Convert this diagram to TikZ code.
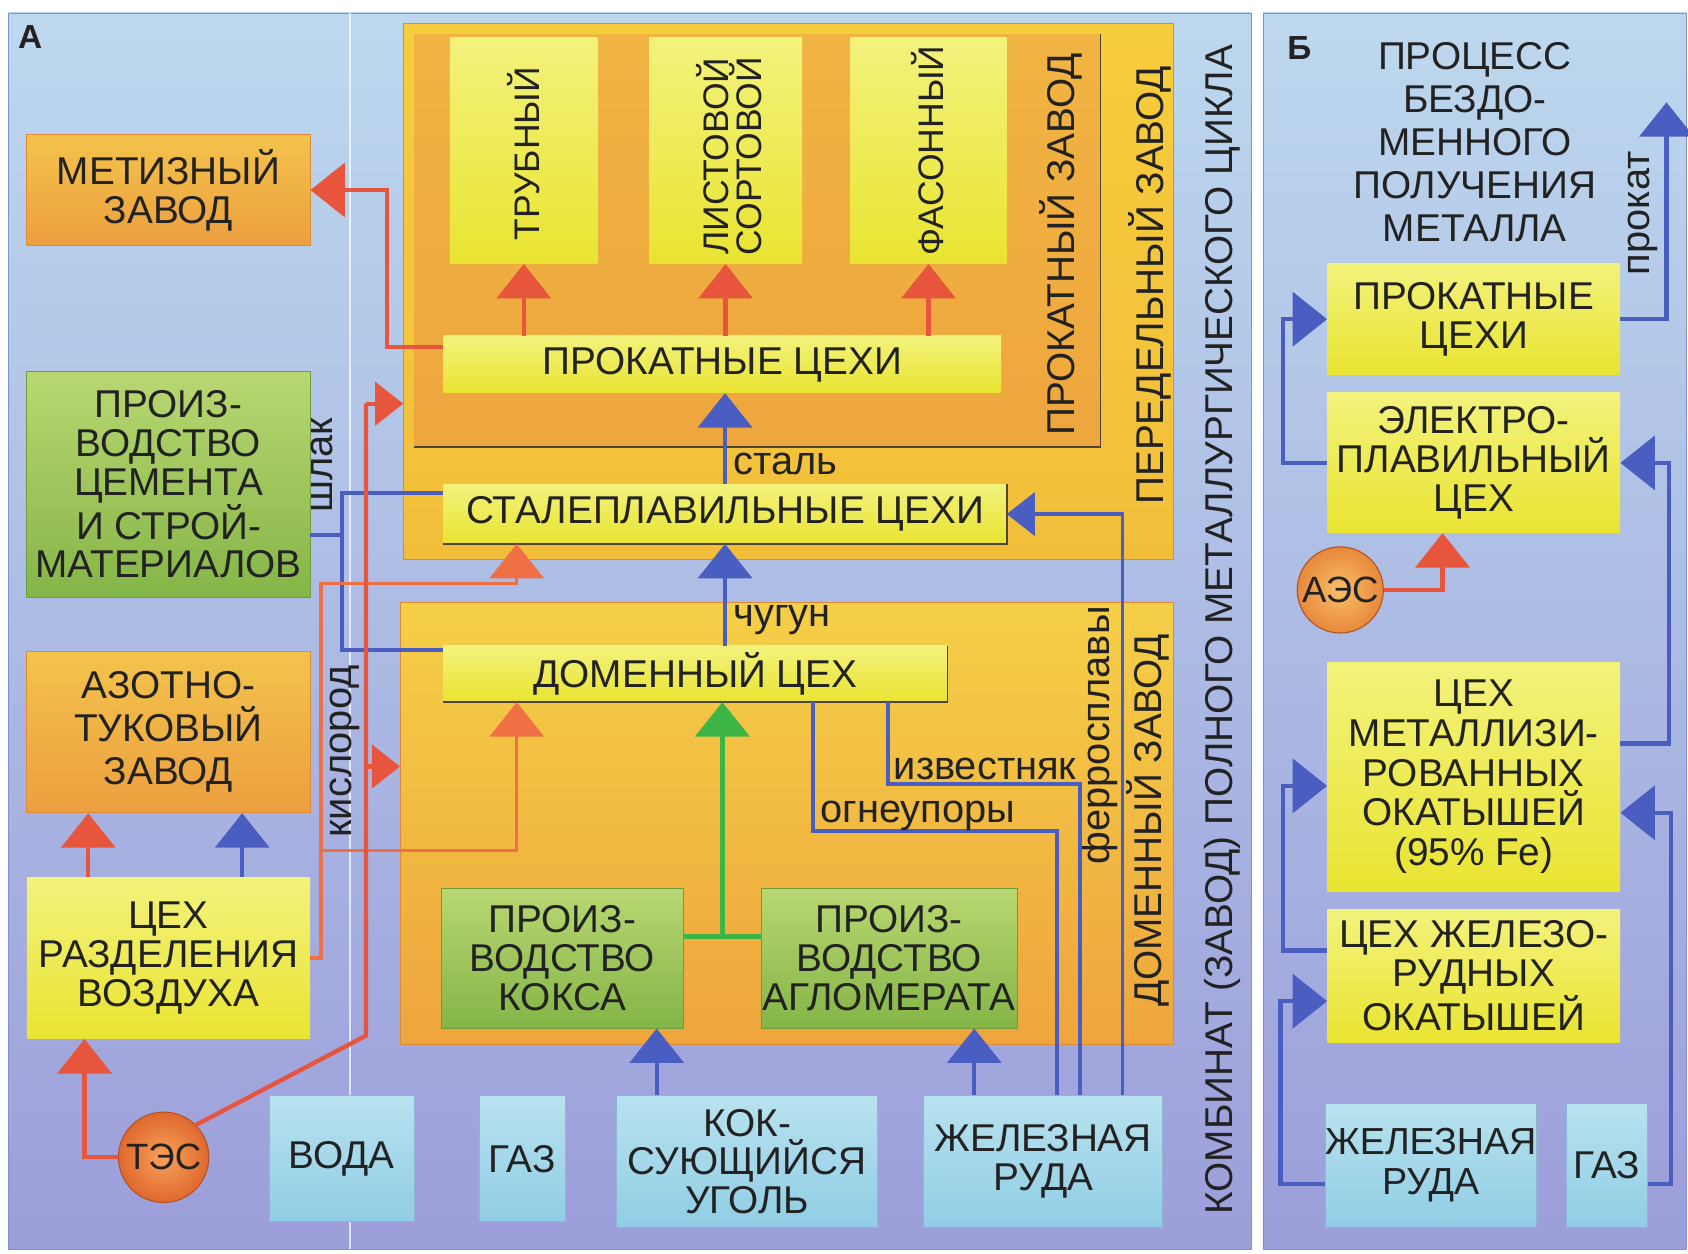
\documentclass[tikz,border=0pt]{standalone}
\usepackage{fontspec}
\setmainfont{Liberation Sans}
\usetikzlibrary{arrows.meta,calc}
\newcommand{\fBig}{\fontsize{36}{36}\selectfont}
\newcommand{\fLbl}{\fontsize{37}{38}\selectfont}
\newcommand{\fCol}{\fontsize{33}{33}\selectfont}
\newcommand{\fPlant}{\fontsize{34}{34}\selectfont}
\definecolor{ink}{HTML}{222222}
\definecolor{bgtop}{HTML}{BDD8EE}
\definecolor{bgmid}{HTML}{ABC2E6}
\definecolor{bgbot}{HTML}{9C9EDA}
\definecolor{pbrd}{HTML}{7F93C9}
\definecolor{or1}{HTML}{F4C34C}
\definecolor{or2}{HTML}{EC9F3F}
\definecolor{orb}{HTML}{E08A38}
\definecolor{gr1}{HTML}{B9D772}
\definecolor{gr2}{HTML}{84B547}
\definecolor{grb}{HTML}{6E9E3A}
\definecolor{ye1}{HTML}{F3F27C}
\definecolor{ye2}{HTML}{E9E431}
\definecolor{cy1}{HTML}{B8E2EF}
\definecolor{cy2}{HTML}{90CDE4}
\definecolor{cyb}{HTML}{8FB6D8}
\definecolor{pe1}{HTML}{F6CD3C}
\definecolor{pe2}{HTML}{F2BE3A}
\definecolor{pk1}{HTML}{F1B442}
\definecolor{pk2}{HTML}{EEA63E}
\definecolor{dz1}{HTML}{F5CF47}
\definecolor{dz2}{HTML}{EEA53D}
\definecolor{blu}{HTML}{4A5EC2}
\definecolor{red1}{HTML}{E6553C}
\definecolor{ora}{HTML}{EE7044}
\definecolor{grn}{HTML}{3DB446}
\definecolor{shdc}{HTML}{4E4536}
\definecolor{tes1}{HTML}{F6A35A}
\definecolor{tes2}{HTML}{E0682E}
\definecolor{aes1}{HTML}{F8C06A}
\definecolor{aes2}{HTML}{E8883A}
\begin{document}
\begin{tikzpicture}[x=1pt,y=-1pt,
  txt/.style={text=ink, align=center, inner sep=0pt, font=\fBig},
  obox/.style={txt, draw=orb, line width=0.8pt, top color=or1, bottom color=or2},
  gbox/.style={txt, draw=grb, line width=0.8pt, top color=gr1, bottom color=gr2},
  ybox/.style={txt, top color=ye1, bottom color=ye2},
  cbox/.style={txt, draw=cyb, line width=0.8pt, top color=cy1, bottom color=cy2},
  plant/.style={circle, txt, font=\fPlant, minimum size=84pt, draw=tes2!80!black, line width=1pt},
  lbl/.style={text=ink, inner sep=0pt, font=\fLbl},
  side/.style={text=ink, inner sep=0pt, font=\fBig},
  bl/.style={draw=blu, line width=4pt},
  rl/.style={draw=red1, line width=4pt},
  ol/.style={draw=ora, line width=3.2pt},
  gl/.style={draw=grn, line width=4pt},
  tipA/.style={-{Triangle[width=50pt,length=32pt]}},
  tipS/.style={-{Triangle[width=40pt,length=26pt]}},
  shd/.style={draw=shdc, line width=1.6pt}
]
\useasboundingbox (0,0) rectangle (1568,1164);
\fill[white] (0,0) rectangle (1568,1164);
% panels
\shade[top color=bgtop, middle color=bgmid, bottom color=bgbot, draw=pbrd] (8,12) rectangle (1162,1160);
\shade[top color=bgtop, middle color=bgmid, bottom color=bgbot, draw=pbrd] (1173,12) rectangle (1566,1160);
\draw[white, line width=2pt, opacity=0.7] (325,12) -- (325,1160);
\node[text=ink, font=\fontsize{31}{31}\selectfont\bfseries, inner sep=0pt] (labA) at (28,34) {А};
\node[text=ink, font=\fontsize{31}{31}\selectfont\bfseries, inner sep=0pt] (labB) at (1207,45) {Б};

% containers
\node[draw=orb, line width=1pt, top color=pe1, bottom color=pe2, minimum width=715pt, minimum height=498pt, inner sep=0pt] (peredel) at (732.5,271) {};
\node[top color=pk1, bottom color=pk2, minimum width=637pt, minimum height=383pt, inner sep=0pt] (prokz) at (703.5,223.5) {};
\draw[shd] (prokz.north east) -- (prokz.south east) -- (prokz.south west);
\node[draw=orb, line width=1pt, top color=dz1, bottom color=dz2, minimum width=718pt, minimum height=410pt, inner sep=0pt] (domzavod) at (731,765) {};

% rolling columns
\node[ybox, minimum width=137pt, minimum height=210pt] (col1) at (486.5,140) {};
\node[ybox, minimum width=142pt, minimum height=210pt] (col2) at (674,140) {};
\node[ybox, minimum width=145pt, minimum height=210pt] (col3) at (862.5,140) {};
\node[side, font=\fCol, rotate=90] (tcol1) at (486,143) {ТРУБНЫЙ};
\node[side, font=\fCol, rotate=90, align=center] (tcol2) at (677,145) {ЛИСТОВОЙ\\[-2pt]СОРТОВОЙ};
\node[side, font=\fCol, rotate=90] (tcol3) at (862,140) {ФАСОННЫЙ};

% bars
\node[ybox, minimum width=518pt, minimum height=53pt] (prokat) at (671,338.5) {ПРОКАТНЫЕ ЦЕХИ};
\node[ybox, minimum width=523pt, minimum height=55pt] (stal) at (673.5,477.5) {СТАЛЕПЛАВИЛЬНЫЕ ЦЕХИ};
\draw[shd] (stal.north east) -- (stal.south east) -- (stal.south west);
\node[ybox, minimum width=468pt, minimum height=52pt] (domcex) at (646,626) {ДОМЕННЫЙ ЦЕХ};
\draw[shd] (domcex.north east) -- (domcex.south east) -- (domcex.south west);
\node[gbox, minimum width=225pt, minimum height=130pt] (koks) at (522.5,890) {ПРОИЗ-\\ВОДСТВО\\КОКСА};
\node[gbox, minimum width=238pt, minimum height=130pt] (aglo) at (826,890) {ПРОИЗ-\\ВОДСТВО\\АГЛОМЕРАТА};

% side labels
\node[side, rotate=90] (lprokz) at (985,227) {ПРОКАТНЫЙ ЗАВОД};
\node[side, rotate=90] (lpered) at (1068,265) {ПЕРЕДЕЛЬНЫЙ ЗАВОД};
\node[side, rotate=90] (ldomz) at (1066,762) {ДОМЕННЫЙ ЗАВОД};
\node[side, rotate=90] (lkomb) at (1136,585) {КОМБИНАТ (ЗАВОД) ПОЛНОГО МЕТАЛЛУРГИЧЕСКОГО ЦИКЛА};

% left column
\node[obox, minimum width=263pt, minimum height=103pt] (metiz) at (156.5,176.5) {МЕТИЗНЫЙ\\ЗАВОД};
\node[gbox, minimum width=263pt, minimum height=210pt] (cement) at (156.5,450) {ПРОИЗ-\\ВОДСТВО\\ЦЕМЕНТА\\И СТРОЙ-\\МАТЕРИАЛОВ};
\node[obox, minimum width=263pt, minimum height=150pt, font=\fontsize{36}{40}\selectfont] (azot) at (156.5,680) {АЗОТНО-\\ТУКОВЫЙ\\ЗАВОД};
\node[ybox, minimum width=263pt, minimum height=150pt] (razd) at (156.5,890) {ЦЕХ\\РАЗДЕЛЕНИЯ\\ВОЗДУХА};
\node[plant, inner color=tes1, outer color=tes2] (tes) at (152,1075) {ТЭС};

% sources
\node[cbox, minimum width=135pt, minimum height=117pt] (voda) at (317.5,1076.5) {ВОДА};
\node[cbox, minimum width=80pt, minimum height=117pt] (gaz) at (485,1076.5) {ГАЗ};
\node[cbox, minimum width=242pt, minimum height=122pt] (ugol) at (694,1079) {КОК-\\СУЮЩИЙСЯ\\УГОЛЬ};
\node[cbox, minimum width=222pt, minimum height=122pt] (ruda) at (969,1079) {ЖЕЛЕЗНАЯ\\РУДА};

% connectors A
\draw[rl,tipA] ([yshift=16pt]prokat.west) -- ++(-52,0) |- (metiz.east);
\draw[rl,tipA] (col1.south |- prokat.north) -- (col1.south);
\draw[rl,tipA] (col2.south |- prokat.north) -- (col2.south);
\draw[rl,tipA] (col3.south |- prokat.north) -- (col3.south);
\draw[bl,tipA] (stal.north) -- (stal.north |- prokat.south) node[pos=0.22, right=6pt, lbl] (lstal) {сталь};
\draw[bl,tipA] (stal.south |- domcex.north) -- (stal.south) node[pos=0.25, right=6pt, lbl] (lchug) {чугун};
\coordinate (gL) at ([yshift=20pt]koks.east);
\coordinate (gR) at ([yshift=20pt]aglo.west);
\coordinate (gM) at ($(gL)!0.5!(gR)$);
\draw[gl] (gL) -- (gR);
\draw[gl,tipA] (gM) -- (gM |- domcex.south);
\draw[bl,tipA] ([xshift=-84pt]ugol.north) -- ([xshift=-84pt]ugol.north |- koks.south);
\draw[bl,tipA] ([xshift=-64pt]ruda.north) -- ([xshift=-64pt]ruda.north |- aglo.south);
\draw[bl,line width=3pt,tipS] ([xshift=74pt]ruda.north) |- (stal.east);
\node[lbl, rotate=90] (lferro) at (1021,683) {ферросплавы};
\coordinate (iz) at (1003,728);
\draw[bl,line width=3.5pt] ([xshift=179pt]domcex.south) |- (iz) -- (iz |- ruda.north);
\node[lbl, anchor=base west] (liz) at (830,724) {известняк};
\coordinate (og) at (982,772);
\draw[bl,line width=3.5pt] ([xshift=109pt]domcex.south) |- (og) -- (og |- ruda.north);
\node[lbl, anchor=base west] (log) at (762,764) {огнеупоры};
% slag
\coordinate (s0) at (318,497);
\coordinate (s1) at (318,458);
\coordinate (s2) at (318,604);
\draw[bl] ([yshift=-47pt]cement.east) -- (s0);
\draw[bl] (stal.west |- s1) -- (s1) -- (s2) -- (domcex.west |- s2);
\node[lbl, rotate=90] (lshlak) at (299,432) {шлак};
% oxygen
\coordinate (k1) at (298,542);
\coordinate (k2) at (480,542);
\coordinate (k3) at (298,790);
\coordinate (k4) at (480,790);
\draw[ol,tipA] (razd.east) -| (k1) -- (k2) -- (k2 |- stal.south);
\draw[ol,tipA] (k3) -- (k4) -- (k4 |- domcex.south);
\node[lbl, rotate=90] (lkisl) at (320,698) {кислород};
% power
\draw[rl,tipA] (tes.west) -| ([xshift=-78pt]razd.south);
\coordinate (t1) at (340,962);
\coordinate (t2) at (340,375);
\coordinate (t3) at (340,712);
\draw[rl] (tes.north east) -- (t1) -- (t2);
\draw[rl,tipS] (t2) -- (peredel.west |- t2);
\draw[rl,tipS] (t3) -- (domzavod.west |- t3);
% air separation -> nitrogen
\draw[rl,tipA] ([xshift=-74.5pt]razd.north) -- ([xshift=-74.5pt]azot.south);
\draw[bl,tipA] ([xshift=68.5pt]razd.north) -- ([xshift=68.5pt]azot.south);

% panel B
\node[txt, font=\fontsize{36}{40}\selectfont] (btitle) at (1370,132) {ПРОЦЕСС\\БЕЗДО-\\МЕННОГО\\ПОЛУЧЕНИЯ\\МЕТАЛЛА};
\node[ybox, minimum width=272pt, minimum height=103pt] (bprokat) at (1369,296.5) {ПРОКАТНЫЕ\\ЦЕХИ};
\node[ybox, minimum width=272pt, minimum height=130pt] (belektro) at (1369,430) {ЭЛЕКТРО-\\ПЛАВИЛЬНЫЙ\\ЦЕХ};
\node[plant, minimum size=80pt, inner color=aes1, outer color=aes2] (aes) at (1245,548) {АЭС};
\node[ybox, minimum width=272pt, minimum height=213pt, font=\fontsize{36}{37}\selectfont] (bmetall) at (1369,721.5) {ЦЕХ\\МЕТАЛЛИЗИ-\\РОВАННЫХ\\ОКАТЫШЕЙ\\(95\% Fe)};
\node[ybox, minimum width=272pt, minimum height=123pt] (bzhel) at (1369,906.5) {ЦЕХ ЖЕЛЕЗО-\\РУДНЫХ\\ОКАТЫШЕЙ};
\node[cbox, minimum width=192pt, minimum height=115pt, font=\fontsize{35}{37}\selectfont] (bruda) at (1329,1082.5) {ЖЕЛЕЗНАЯ\\РУДА};
\node[cbox, minimum width=75pt, minimum height=115pt] (bgaz) at (1492.5,1082.5) {ГАЗ};

\coordinate (pktip) at (1548,95);
\draw[bl,tipA] (bprokat.east) -| (pktip);
\node[lbl, rotate=90] (lprokat) at (1526,198) {прокат};
\draw[bl,tipA] (belektro.west) -- ++(-41,0) |- (bprokat.west);
\draw[rl,tipA] (aes.east) -| ([xshift=-29pt]belektro.south);
\draw[bl,tipA] ([yshift=31pt]bmetall.east) -- ++(45,0) |- (belektro.east);
\draw[bl,tipA] ([yshift=23.5pt]bzhel.west) -- ++(-41,0) |- ([yshift=-8.5pt]bmetall.west);
\draw[bl,tipA] ([yshift=-17.5pt]bruda.west) -- ++(-41,0) |- ([yshift=-23.5pt]bzhel.west);
\draw[bl,tipA] ([yshift=-17.5pt]bgaz.east) -- ++(22,0) |- ([yshift=-33.5pt]bmetall.east);
\end{tikzpicture}
\end{document}
